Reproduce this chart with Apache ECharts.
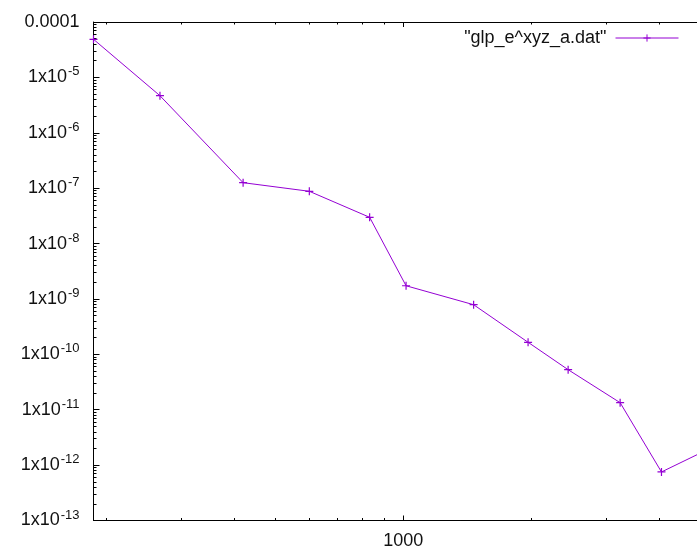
<!DOCTYPE html>
<html>
<head>
<meta charset="utf-8">
<script src="https://cdn.jsdelivr.net/npm/echarts@6/dist/echarts.min.js"></script>
<style>
  html, body { margin: 0; padding: 0; background: #fff; overflow: hidden; }
  /* plot frame runs past the right edge of the window */
  #chart { width: 900px; height: 551px; }
</style>
</head>
<body>
<div id="chart"></div>
<script>
// Convergence data: error against problem size, both on log scales
const seriesName = '"glp_e^xyz_a.dat"';
const xValues = [186.7, 267.6, 419.8, 600.9, 833, 1014.7, 1463, 1965, 2441, 3235, 4047, 6000];
const yValues = [4.87e-5, 4.67e-6, 1.256e-7, 8.78e-8, 2.98e-8, 1.73e-9, 7.87e-10, 1.65e-10, 5.28e-11, 1.34e-11, 7.52e-13, 3.26e-12];

// Axis ranges and labelled ticks
const xRange = [186.7, 10000];
const yRange = [1e-13, 1e-4];
const xTickValues = [1000, 10000];
const xTickLabels = ['1000', '10000'];
const yTickValues = [1e-4, 1e-5, 1e-6, 1e-7, 1e-8, 1e-9, 1e-10, 1e-11, 1e-12, 1e-13];
const yTickLabels = ['0.0001', '1x10^-5', '1x10^-6', '1x10^-7', '1x10^-8', '1x10^-9',
                     '1x10^-10', '1x10^-11', '1x10^-12', '1x10^-13'];

const FONT = '"Liberation Sans", Arial, sans-serif';
const INK = '#111';
const LINE_COLOR = '#9400d3';

// 2..9 times each decade inside [lo, hi]
function minorTicks(lo, hi) {
  const out = [];
  const d0 = Math.floor(Math.log10(lo));
  const d1 = Math.ceil(Math.log10(hi));
  for (let d = d0; d < d1; d++) {
    for (let m = 2; m <= 9; m++) {
      const v = m * Math.pow(10, d);
      if (v >= lo * 0.9999 && v <= hi * 1.0001) out.push(v);
    }
  }
  return out;
}

function lookup(values, labels, v) {
  const lv = Math.log10(v);
  const i = values.findIndex(t => Math.abs(Math.log10(t) - lv) < 1e-6);
  return i < 0 ? '' : labels[i];
}

function richLabel(s) {
  const k = s.indexOf('^');
  return k < 0 ? s : s.slice(0, k) + '{sup|' + s.slice(k + 1) + '}';
}

const xMinor = minorTicks(xRange[0], xRange[1]);
const yMinor = minorTicks(yRange[0], yRange[1]);

const axisLineStyle = { color: '#000', width: 1 };

function xAxisDef(position, major, withLine, withLabels) {
  return {
    type: 'log', logBase: 10, min: xRange[0], max: xRange[1], position: position,
    axisLine: { show: withLine, lineStyle: axisLineStyle },
    axisTick: { show: true, inside: true, length: major ? 5 : 2.5,
                customValues: major ? xTickValues : xMinor, lineStyle: axisLineStyle },
    axisLabel: withLabels ? {
      show: true, customValues: xTickValues, margin: 12,
      fontSize: 18, fontFamily: FONT, color: INK,
      formatter: v => lookup(xTickValues, xTickLabels, v)
    } : { show: false },
    splitLine: { show: false }, minorTick: { show: false }
  };
}

function yAxisDef(major, withLine, withLabels) {
  return {
    type: 'log', logBase: 10, min: yRange[0], max: yRange[1], position: 'left',
    axisLine: { show: withLine, lineStyle: axisLineStyle },
    axisTick: { show: true, inside: true, length: major ? 6 : 3,
                customValues: major ? yTickValues : yMinor, lineStyle: axisLineStyle },
    axisLabel: withLabels ? {
      show: true, customValues: yTickValues, margin: 14,
      fontSize: 18, fontFamily: FONT, color: INK,
      formatter: v => richLabel(lookup(yTickValues, yTickLabels, v)),
      rich: {
        sup: { fontSize: 13, fontFamily: FONT, color: INK, padding: [0, 0, 11, 1] }
      }
    } : { show: false },
    splitLine: { show: false }, minorTick: { show: false }
  };
}

const chart = echarts.init(document.getElementById('chart'), null, { renderer: 'canvas' });
chart.setOption({
  animation: false,
  backgroundColor: '#fff',
  grid: { left: 93.5, top: 22, bottom: 30.5, right: 71.5, containLabel: false },
  legend: {
    show: true, right: 221, top: 29, padding: 0,
    align: 'right', itemWidth: 63, itemHeight: 9,
    lineStyle: { width: 1 },
    itemStyle: { borderWidth: 1 },
    textStyle: { fontSize: 18, fontFamily: FONT, color: INK, padding: [0, 4, 0, 0] },
    data: [seriesName]
  },
  xAxis: [
    xAxisDef('bottom', true, true, true),
    xAxisDef('bottom', false, false, false),
    xAxisDef('top', true, true, false),
    xAxisDef('top', false, false, false)
  ],
  yAxis: [
    yAxisDef(true, true, true),
    yAxisDef(false, false, false)
  ],
  series: [{
    name: seriesName,
    type: 'line',
    xAxisIndex: 0, yAxisIndex: 0,
    data: xValues.map((x, i) => [x, yValues[i]]),
    symbol: 'path://M0,4L8,4M4,0L4,8',
    symbolSize: 8,
    showAllSymbol: true,
    lineStyle: { color: LINE_COLOR, width: 1 },
    itemStyle: { color: LINE_COLOR, borderColor: LINE_COLOR, borderWidth: 1.2 },
    emphasis: { disabled: true }
  }]
});
</script>
</body>
</html>
